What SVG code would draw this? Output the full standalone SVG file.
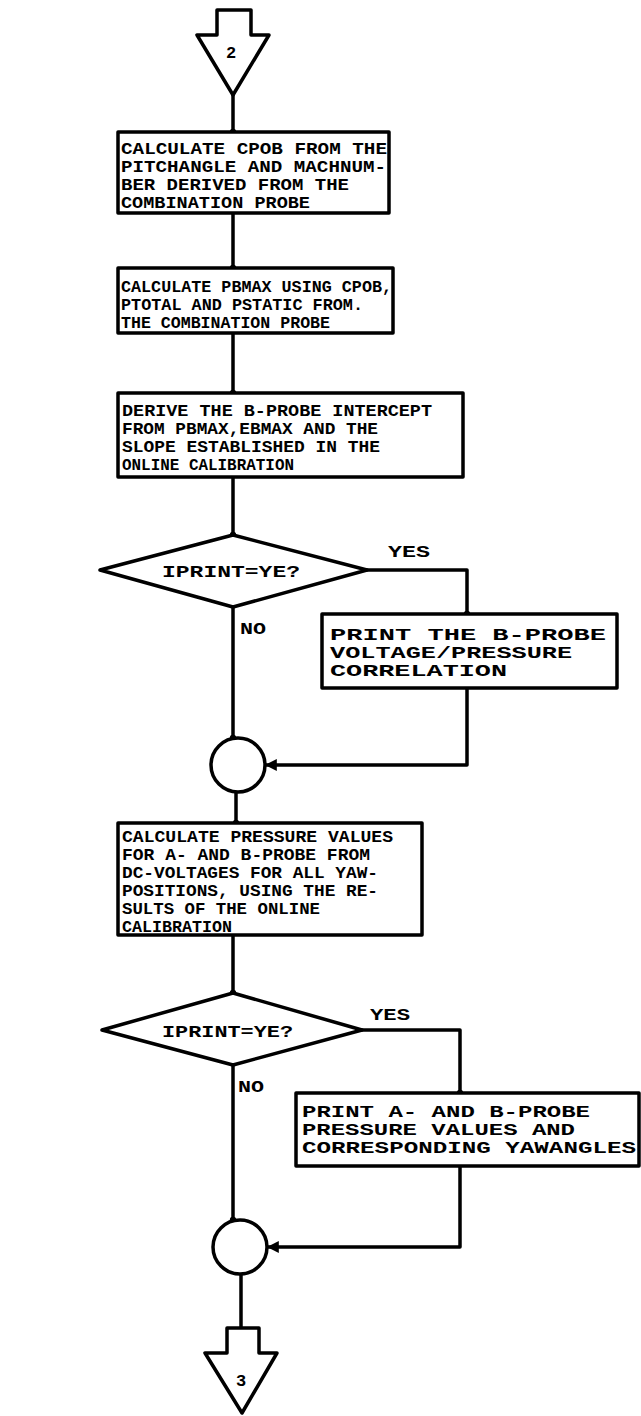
<svg xmlns="http://www.w3.org/2000/svg" width="641" height="1416" viewBox="0 0 641 1416">
<style>
.s{fill:#fff;stroke:#000;stroke-width:3.5;stroke-linejoin:round}
.c{fill:none;stroke:#000;stroke-width:3.5;stroke-linejoin:round}
text{font-family:"Liberation Mono","DejaVu Sans Mono",monospace;font-weight:bold;font-size:17px;fill:#000}
.t{font-size:16px}
</style>
<defs>
<marker id="dot" viewBox="0 0 8 8" refX="4" refY="4" markerWidth="8" markerHeight="8" markerUnits="userSpaceOnUse"><circle cx="4" cy="4" r="3.2" fill="#000"/></marker>
<marker id="arr" viewBox="0 0 10 10" refX="9" refY="5" markerWidth="12" markerHeight="12" markerUnits="userSpaceOnUse" orient="auto"><path d="M0,0 L10,5 L0,10 z" fill="#000"/></marker>
</defs>
<g id="connectors">
<path class="c" d="M233,95 V132" marker-end="url(#dot)"/>
<path class="c" d="M233,213 V268" marker-end="url(#dot)"/>
<path class="c" d="M233,333 V393" marker-end="url(#dot)"/>
<path class="c" d="M233,477 V535" marker-end="url(#dot)"/>
<path class="c" d="M367,570 H467 V614" marker-end="url(#dot)"/>
<path class="c" d="M233,607 V738" marker-end="url(#dot)"/>
<path class="c" d="M467,688 V765 H266" marker-end="url(#arr)"/>
<path class="c" d="M236,792 V823" marker-end="url(#dot)"/>
<path class="c" d="M233,935 V993" marker-end="url(#dot)"/>
<path class="c" d="M360,1030 H460 V1093" marker-end="url(#dot)"/>
<path class="c" d="M233,1065 V1220" marker-end="url(#dot)"/>
<path class="c" d="M460,1166 V1247 H268" marker-end="url(#arr)"/>
<path class="c" d="M241,1274 V1328"/>
</g>
<g id="start">
<path class="s" d="M217,10 H251 V35 H269 L233,95 L197,35 H217 Z"/>
<text x="226" y="58">2</text>
</g>
<g id="box1">
<rect class="s" x="118" y="132" width="271" height="81"/>
<text x="121" y="154" textLength="266" lengthAdjust="spacingAndGlyphs">CALCULATE CPOB FROM THE</text>
<text x="121" y="172" textLength="265" lengthAdjust="spacingAndGlyphs">PITCHANGLE AND MACHNUM-</text>
<text x="121" y="190" textLength="228" lengthAdjust="spacingAndGlyphs">BER DERIVED FROM THE</text>
<text x="121" y="208" textLength="189" lengthAdjust="spacingAndGlyphs">COMBINATION PROBE</text>
</g>
<g id="box2">
<rect class="s" x="118" y="268" width="275" height="65"/>
<text x="121" y="292" textLength="271" lengthAdjust="spacingAndGlyphs">CALCULATE PBMAX USING CPOB,</text>
<text x="121" y="310" textLength="242" lengthAdjust="spacingAndGlyphs">PTOTAL AND PSTATIC FROM.</text>
<text x="121" y="328" textLength="209" lengthAdjust="spacingAndGlyphs">THE COMBINATION PROBE</text>
</g>
<g id="box3">
<rect class="s" x="118" y="393" width="345" height="84"/>
<text x="122" y="416" textLength="310" lengthAdjust="spacingAndGlyphs">DERIVE THE B-PROBE INTERCEPT</text>
<text x="122" y="434" textLength="256" lengthAdjust="spacingAndGlyphs">FROM PBMAX,EBMAX AND THE</text>
<text x="122" y="452" textLength="258" lengthAdjust="spacingAndGlyphs">SLOPE ESTABLISHED IN THE</text>
<text x="122" y="470" textLength="172" lengthAdjust="spacingAndGlyphs">ONLINE CALIBRATION</text>
</g>
<g id="decision1">
<path class="s" d="M233,535 L367,570 L233,607 L100,570 Z"/>
<text x="162" y="577" textLength="138" lengthAdjust="spacingAndGlyphs">IPRINT=YE?</text>
<text x="388" y="557" textLength="42" lengthAdjust="spacingAndGlyphs">YES</text>
<text x="240" y="634" textLength="26" lengthAdjust="spacingAndGlyphs">NO</text>
</g>
<g id="box4">
<rect class="s" x="322" y="614" width="295" height="74"/>
<text class="t" x="330" y="640" textLength="276" lengthAdjust="spacingAndGlyphs">PRINT THE B-PROBE</text>
<text class="t" x="330" y="658" textLength="242" lengthAdjust="spacingAndGlyphs">VOLTAGE/PRESSURE</text>
<text class="t" x="330" y="676" textLength="177" lengthAdjust="spacingAndGlyphs">CORRELATION</text>
</g>
<g id="join1">
<circle class="s" cx="238" cy="765" r="27"/>
</g>
<g id="box5">
<rect class="s" x="118" y="823" width="304" height="112"/>
<text x="122" y="842" textLength="271" lengthAdjust="spacingAndGlyphs">CALCULATE PRESSURE VALUES</text>
<text x="122" y="860" textLength="248" lengthAdjust="spacingAndGlyphs">FOR A- AND B-PROBE FROM</text>
<text x="122" y="878" textLength="256" lengthAdjust="spacingAndGlyphs">DC-VOLTAGES FOR ALL YAW-</text>
<text x="122" y="896" textLength="256" lengthAdjust="spacingAndGlyphs">POSITIONS, USING THE RE-</text>
<text x="122" y="914" textLength="198" lengthAdjust="spacingAndGlyphs">SULTS OF THE ONLINE</text>
<text x="122" y="932" textLength="110" lengthAdjust="spacingAndGlyphs">CALIBRATION</text>
</g>
<g id="decision2">
<path class="s" d="M233,993 L362,1030 L233,1065 L102,1030 Z"/>
<text x="162" y="1037" textLength="131" lengthAdjust="spacingAndGlyphs">IPRINT=YE?</text>
<text x="370" y="1020" textLength="40" lengthAdjust="spacingAndGlyphs">YES</text>
<text x="238" y="1092" textLength="26" lengthAdjust="spacingAndGlyphs">NO</text>
</g>
<g id="box6">
<rect class="s" x="296" y="1093" width="343" height="73"/>
<text class="t" x="302" y="1117" textLength="288" lengthAdjust="spacingAndGlyphs">PRINT A- AND B-PROBE</text>
<text class="t" x="302" y="1135" textLength="273" lengthAdjust="spacingAndGlyphs">PRESSURE VALUES AND</text>
<text class="t" x="302" y="1153" textLength="334" lengthAdjust="spacingAndGlyphs">CORRESPONDING YAWANGLES</text>
</g>
<g id="join2">
<circle class="s" cx="240" cy="1247" r="27"/>
</g>
<g id="end">
<path class="s" d="M227,1328 H259 V1353 H277 L242,1413 L205,1353 H227 Z"/>
<text x="236" y="1386">3</text>
</g>
</svg>
